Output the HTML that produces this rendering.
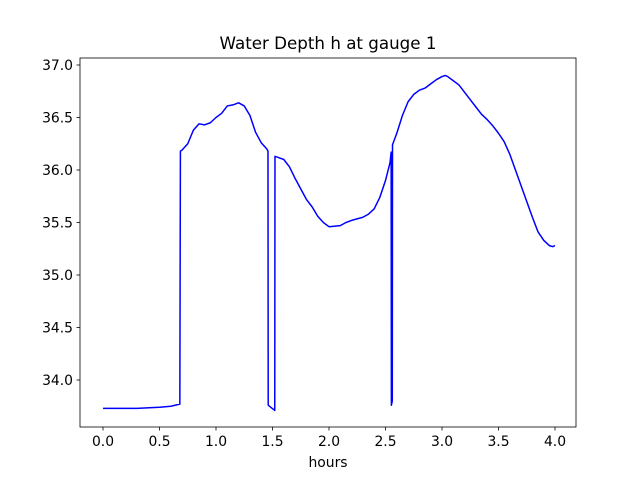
<!DOCTYPE html>
<html><head><meta charset="utf-8"><style>
body{margin:0;background:#fff;font-family:"Liberation Sans","DejaVu Sans",sans-serif}
svg text{font-family:"DejaVu Sans","Liberation Sans",sans-serif;font-size:13.9px;fill:#000}
</style></head><body>
<svg id="c" width="640" height="480">
<rect width="640" height="480" fill="#fff"/>
<text x="328" y="49" text-anchor="middle" style="font-size:16.7px">Water Depth h at gauge 1</text>
<g id="plot"></g>
<rect x="80" y="58" width="496" height="369" fill="none" stroke="#000" stroke-width="0.8"/>
<text x="328" y="467" text-anchor="middle">hours</text>
</svg>
<script>
const xTicks=[0,0.5,1,1.5,2,2.5,3,3.5,4];
const xTickLabels=["0.0","0.5","1.0","1.5","2.0","2.5","3.0","3.5","4.0"];
const yTicks=[34,34.5,35,35.5,36,36.5,37];
const yTickLabels=["34.0","34.5","35.0","35.5","36.0","36.5","37.0"];
const hours=[0,0.3,0.5,0.6,0.68,0.685,0.7,0.75,0.8,0.85,0.9,0.95,1.0,1.05,1.1,1.15,1.2,1.25,1.3,1.35,1.4,1.45,1.46,1.462,1.52,1.522,1.55,1.6,1.65,1.7,1.75,1.8,1.85,1.9,1.95,2.0,2.1,2.15,2.2,2.3,2.35,2.4,2.45,2.5,2.54,2.55,2.552,2.56,2.562,2.6,2.65,2.7,2.75,2.8,2.85,2.9,2.95,3.0,3.03,3.05,3.1,3.15,3.2,3.25,3.3,3.35,3.4,3.45,3.5,3.55,3.6,3.65,3.7,3.75,3.8,3.85,3.9,3.95,3.98,4.0];
const depth=[33.73,33.73,33.74,33.75,33.77,36.18,36.19,36.25,36.38,36.44,36.43,36.45,36.5,36.54,36.61,36.62,36.64,36.61,36.52,36.36,36.26,36.2,36.18,33.76,33.71,36.13,36.12,36.1,36.03,35.92,35.82,35.72,35.65,35.56,35.5,35.46,35.47,35.5,35.52,35.55,35.58,35.63,35.74,35.9,36.07,36.17,33.76,33.8,36.24,36.35,36.52,36.65,36.72,36.76,36.78,36.82,36.86,36.89,36.9,36.89,36.85,36.81,36.74,36.67,36.6,36.53,36.48,36.42,36.35,36.27,36.15,36.0,35.85,35.7,35.55,35.41,35.33,35.28,35.27,35.28];
const X=v=>103+113*v, Y=v=>65+(37-v)*105;
const NS="http://www.w3.org/2000/svg", g=document.getElementById('plot');
function mk(t,a){const e=document.createElementNS(NS,t);for(const k in a)e.setAttribute(k,a[k]);g.appendChild(e);return e;}
xTicks.forEach((t,i)=>{
 const l=mk('line',{x1:X(t),x2:X(t),y1:427,y2:430.5,stroke:'#000','stroke-width':0.8});
 
 
 const tx=mk('text',{x:X(t),y:446,'text-anchor':'middle'});tx.textContent=xTickLabels[i];
 
 
});
yTicks.forEach((t,i)=>{
 const l=mk('line',{x1:76.5,x2:80,y1:Y(t),y2:Y(t),stroke:'#000','stroke-width':0.8});
 
 
 const tx=mk('text',{x:73,y:Y(t)+5,'text-anchor':'end'});tx.textContent=yTickLabels[i];
 
 
});
const p=mk('polyline',{points:hours.map((h,i)=>X(h)+','+Y(depth[i])).join(' '),fill:'none',stroke:'#0000ff','stroke-width':1.5,'stroke-linejoin':'round'});


</script>
</body></html>
